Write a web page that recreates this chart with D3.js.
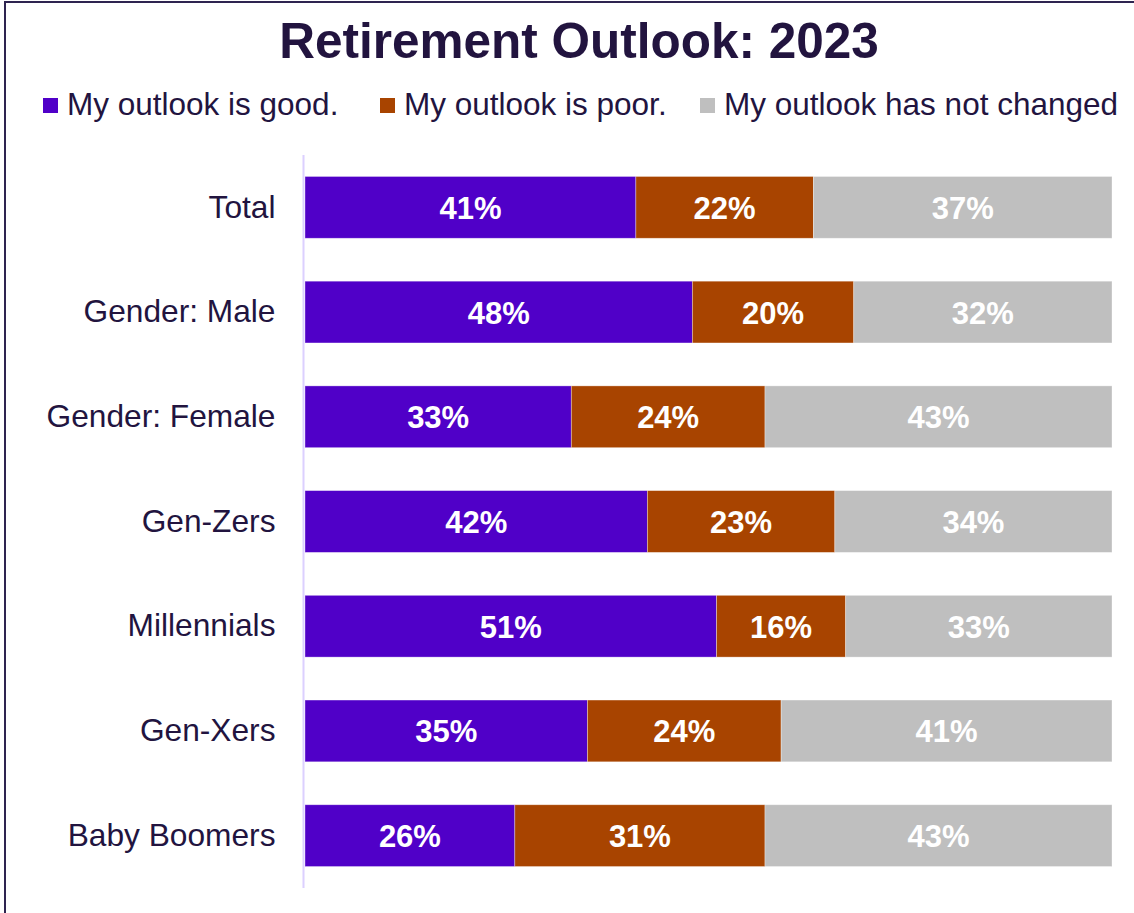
<!DOCTYPE html>
<html>
<head>
<meta charset="utf-8">
<script src="https://cdn.jsdelivr.net/npm/d3@7"></script>
<style>
  html, body { margin: 0; padding: 0; background: #ffffff; }
  svg { display: block; font-family: "Liberation Sans", Arial, sans-serif; }
</style>
</head>
<body>
<svg id="chart" width="1134" height="913"></svg>
<script>
// Survey groups and the share of answers for each outlook
const categories = ["Total", "Gender: Male", "Gender: Female", "Gen-Zers", "Millennials", "Gen-Xers", "Baby Boomers"];
const seriesNames = ["My outlook is good.", "My outlook is poor.", "My outlook has not changed"];
const good      = [41, 48, 33, 42, 51, 35, 26];
const poor      = [22, 20, 24, 23, 16, 24, 31];
const unchanged = [37, 32, 43, 34, 33, 41, 43];
const colors = ["#5000c8", "#a84400", "#bfbfbf"];
const titleText = "Retirement Outlook: 2023";

const svg = d3.select("#chart");
const ink = "#22143f";

// frame (right and bottom edges run past the page)
svg.append("rect")
  .attr("x", 5).attr("y", 2)
  .attr("width", 1160).attr("height", 940)
  .attr("fill", "none")
  .attr("stroke", "#2e2450")
  .attr("stroke-width", 2);

// title
svg.append("text")
  .attr("x", 579).attr("y", 58)
  .attr("text-anchor", "middle")
  .attr("font-size", 49.5)
  .attr("font-weight", "bold")
  .attr("fill", ink)
  .text(titleText);

// legend: fixed slots, marker then label
const legendSlots = [43, 380, 700];
const legend = svg.append("g");
seriesNames.forEach((name, i) => {
  const lx = legendSlots[i];
  legend.append("rect")
    .attr("x", lx).attr("y", 98)
    .attr("width", 15).attr("height", 15)
    .attr("fill", colors[i]);
  legend.append("text")
    .attr("x", lx + 24).attr("y", 115)
    .attr("font-size", 31.5)
    .attr("fill", ink)
    .text(name);
});

// scales: each row is shown as 100% of its own total
const x = d3.scaleLinear().domain([0, 1]).range([305, 1112]);
const y = d3.scaleBand().domain(categories).range([155, 888])
  .paddingInner(0.41).paddingOuter(0.205);

const rows = categories.map((c, i) => {
  const vals = [good[i], poor[i], unchanged[i]];
  const total = d3.sum(vals);
  let acc = 0;
  return vals.map((v, k) => {
    const seg = { cat: c, k, v, x0: acc / total, x1: (acc + v) / total };
    acc += v;
    return seg;
  });
});

const plot = svg.append("g");

// bars
plot.selectAll("g.row")
  .data(rows)
  .join("g")
  .attr("class", "row")
  .selectAll("rect")
  .data(d => d)
  .join("rect")
  .attr("x", d => x(d.x0))
  .attr("y", d => y(d.cat))
  .attr("width", d => x(d.x1) - x(d.x0))
  .attr("height", y.bandwidth())
  .attr("fill", d => colors[d.k])
  .attr("stroke", "rgba(255,255,255,0.45)")
  .attr("stroke-width", 0.75);

// value labels
plot.selectAll("g.vals")
  .data(rows)
  .join("g")
  .attr("class", "vals")
  .selectAll("text")
  .data(d => d)
  .join("text")
  .attr("x", d => (x(d.x0) + x(d.x1)) / 2)
  .attr("y", d => y(d.cat) + y.bandwidth() / 2 + 11.5)
  .attr("text-anchor", "middle")
  .attr("font-size", 31)
  .attr("font-weight", "bold")
  .attr("fill", "#ffffff")
  .text(d => d.v + "%");

// category axis
const axis = svg.append("g")
  .attr("transform", "translate(303.5,0)")
  .call(d3.axisLeft(y).tickSize(0).tickPadding(28));
axis.select(".domain")
  .attr("d", "M0,155V888")
  .attr("stroke", "#dcd0ff")
  .attr("stroke-width", 2);
axis.selectAll(".tick text")
  .attr("font-size", 31.7)
  .attr("font-family", "'Liberation Sans', Arial, sans-serif")
  .attr("fill", ink)
  .attr("dy", "0.32em");
</script>
</body>
</html>
